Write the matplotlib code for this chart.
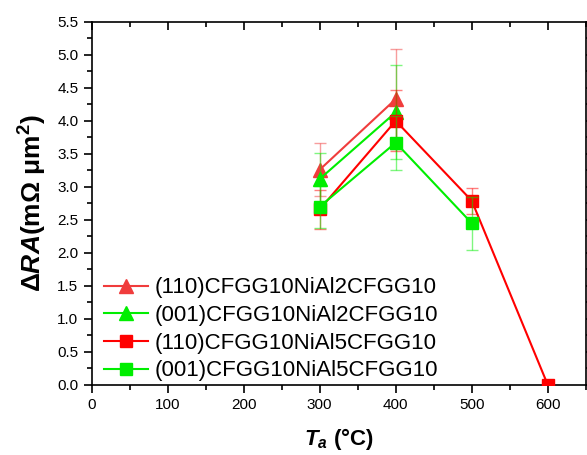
import matplotlib
matplotlib.use("Agg")
import matplotlib.pyplot as plt
import numpy as np

plt.rcParams['font.family'] = ['Liberation Sans', 'DejaVu Sans']
plt.rcParams['mathtext.fontset'] = 'custom'
plt.rcParams['mathtext.rm'] = 'Liberation Sans:bold'
plt.rcParams['mathtext.it'] = 'Liberation Sans:bold:italic'
plt.rcParams['mathtext.bf'] = 'Liberation Sans:bold'

# 数据
ta_nial2 = [300, 400]
ra_110_nial2 = [3.26, 4.33]
err_110_nial2 = [0.40, 0.76]
ra_001_nial2 = [3.12, 4.13]
err_001_nial2 = [0.39, 0.71]

ta_110_nial5 = [300, 400, 500, 600]
ra_110_nial5 = [2.66, 4.00, 2.79, 0.0]
err_110_nial5 = [0.30, 0.46, 0.20, 0.0]

ta_001_nial5 = [300, 400, 500]
ra_001_nial5 = [2.70, 3.67, 2.45]
err_001_nial5 = [0.32, 0.41, 0.40]

labels = ["(110)CFGG10NiAl2CFGG10", "(001)CFGG10NiAl2CFGG10",
          "(110)CFGG10NiAl5CFGG10", "(001)CFGG10NiAl5CFGG10"]

red_tri = '#f03c3c'
red = '#ff0000'
green = '#00ee00'

fig = plt.figure(figsize=(5.87, 4.55), dpi=100)
ax = fig.add_axes([0.156, 0.154, 0.842, 0.798])

def series(x, y, e, c, m, ms, lab, z):
    ax.errorbar(x, y, yerr=e, fmt='none', ecolor=c, elinewidth=1,
                capsize=4, capthick=1, alpha=0.5, zorder=z)
    ax.plot(x, y, color=c, marker=m, markersize=ms, lw=1.5, label=lab,
            zorder=z + 1)

series(ta_nial2, ra_110_nial2, err_110_nial2, red_tri, '^', 10, labels[0], 2)
series(ta_nial2, ra_001_nial2, err_001_nial2, green, '^', 10, labels[1], 4)
series(ta_110_nial5, ra_110_nial5, err_110_nial5, red, 's', 8, labels[2], 6)
series(ta_001_nial5, ra_001_nial5, err_001_nial5, green, 's', 8, labels[3], 8)

ax.set_xlim(0, 650)
ax.set_ylim(0, 5.5)
ax.set_xticks(np.arange(0, 601, 100))
ax.set_xticks(np.arange(0, 651, 50), minor=True)
ax.set_yticks(np.arange(0, 5.51, 0.5))
ax.set_yticks(np.arange(0, 5.51, 0.25), minor=True)
ax.set_yticklabels(["%.1f" % v for v in np.arange(0, 5.51, 0.5)])
ax.tick_params(which='both', direction='out', labelsize=11, width=1.2)
ax.tick_params(which='major', length=6)
ax.tick_params(which='minor', length=3.5)
ax.tick_params(which='both', top=True, right=True)
for s in ax.spines.values():
    s.set_linewidth(1.2)

# 上、右边框的刻度朝内
for t in ax.xaxis.get_major_ticks() + ax.xaxis.get_minor_ticks():
    t.tick2line.set_marker(3)
for t in ax.yaxis.get_major_ticks() + ax.yaxis.get_minor_ticks():
    t.tick2line.set_marker(1)

ax.set_xlabel(r'$T_a$ (°C)', fontsize=16, fontweight='bold', labelpad=10)
ax.set_ylabel(r'$\Delta RA$(m$\mathrm{\Omega}$ $\mathrm{\mu}$m$^2$)', fontsize=19,
              fontweight='bold', labelpad=6)

ax.legend(loc='lower left', bbox_to_anchor=(0.025, 0.01), frameon=False,
          fontsize=16, handlelength=2.0, handletextpad=0.3, labelspacing=0.3,
          borderpad=0, borderaxespad=0)

fig.savefig("out.png", dpi=100)
